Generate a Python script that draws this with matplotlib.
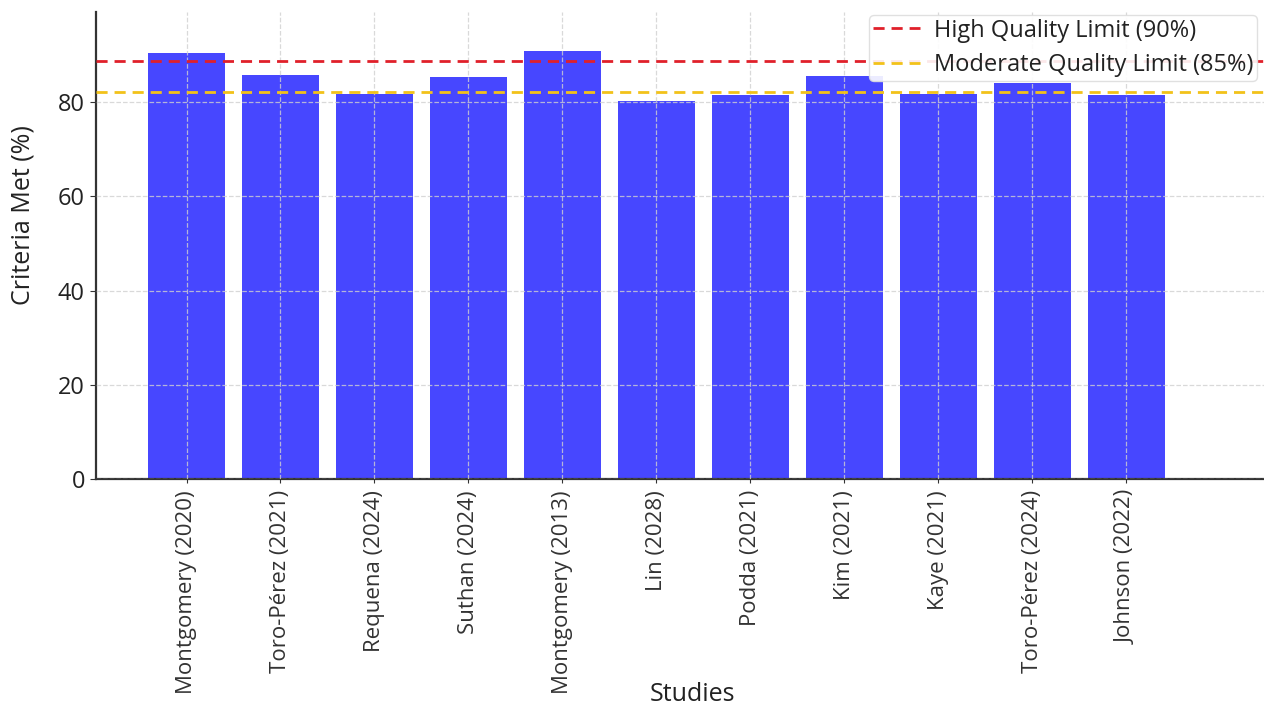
import matplotlib
matplotlib.use("Agg")
import matplotlib.pyplot as plt

studies = ["Montgomery (2020)", "Toro-Pérez (2021)", "Requena (2024)", "Suthan (2024)",
           "Montgomery (2013)", "Lin (2028)", "Podda (2021)", "Kim (2021)",
           "Kaye (2021)", "Toro-Pérez (2024)", "Johnson (2022)"]
criteria_met = [90.3, 85.7, 81.8, 85.4, 90.8, 80.2, 81.5, 85.5, 81.8, 84.1, 81.5]
high_limit = 88.7
moderate_limit = 82.2
high_label = "High Quality Limit (90%)"
moderate_label = "Moderate Quality Limit (85%)"
yticks = [0, 20, 40, 60, 80]

plt.rcParams['font.family'] = ['Open Sans', 'DejaVu Sans']

W, H = 1264, 709
fig = plt.figure(figsize=(W / 100, H / 100), dpi=100)
ax_l, ax_r, ax_b, ax_t = 96, 1288, 479, 12
ax = fig.add_axes([ax_l / W, 1 - ax_b / H, (ax_r - ax_l) / W, (ax_b - ax_t) / H])

x = list(range(len(studies)))
ax.bar(x, criteria_met, width=0.82, color='blue', alpha=0.72, zorder=2)
ax.axhline(high_limit, color='#e0202a', linestyle='--', linewidth=2, dashes=(4, 2.5),
           label=high_label, zorder=3)
ax.axhline(moderate_limit, color='#f2c21a', linestyle='--', linewidth=2, dashes=(4, 2.5),
           label=moderate_label, zorder=3)

ax.set_xlim(-0.963, 11.72)
ax.set_ylim(0, 99.1)
ax.set_xticks(x)
ax.set_xticklabels(studies, rotation=90, fontsize=16, color='#222222')
ax.set_yticks(yticks)
ax.tick_params(axis='y', labelsize=17, colors='#333333', length=4, pad=4)
ax.tick_params(axis='x', length=3, colors='#333333', pad=5)
for lab in ax.get_yticklabels():
    lab.set_color('#222222')

ax.grid(True, linestyle='--', color='#d0d0d0', linewidth=0.9, alpha=0.8, zorder=2.5)
ax.set_axisbelow(False)

for s in ['top', 'right']:
    ax.spines[s].set_visible(False)
for s in ['left', 'bottom']:
    ax.spines[s].set_color('#333333')
    ax.spines[s].set_linewidth(1.6)

ax.set_ylabel("Criteria Met (%)", fontsize=18, color='#222222')
ax.set_xlabel("Studies", fontsize=18, color='#222222')
ax.yaxis.set_label_coords(-(ax_l - 24 - 12) / (ax_r - ax_l), (ax_b - 215) / (ax_b - ax_t))
ax.xaxis.set_label_coords((692 - ax_l) / (ax_r - ax_l), (ax_b - 682) / (ax_b - ax_t))

leg = ax.legend(loc='upper right', bbox_to_anchor=((1257 - ax_l) / (ax_r - ax_l), (ax_b - 15) / (ax_b - ax_t)),
                borderaxespad=0, fontsize=17, frameon=True, fancybox=True,
                handlelength=2.0, handletextpad=0.6, labelspacing=0.45, borderpad=0.15)
leg.get_frame().set_edgecolor('#dddddd')
leg.get_frame().set_alpha(0.9)
for t in leg.get_texts():
    t.set_color('#222222')

fig.savefig("out.png", dpi=100)
